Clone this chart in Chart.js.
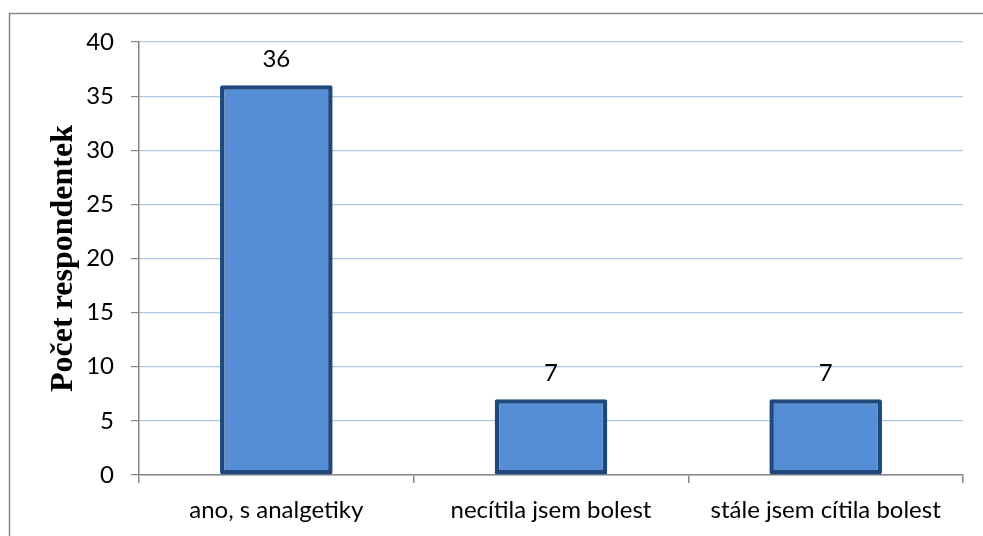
<!DOCTYPE html>
<html>
<head>
<meta charset="utf-8">
<script src="https://cdn.jsdelivr.net/npm/chart.js@4.4.1/dist/chart.umd.min.js"></script>
<style>
  html, body { margin: 0; padding: 0; background: #ffffff; }
  #wrap { width: 983px; height: 536px; position: relative; }
</style>
</head>
<body>
<div id="wrap"><canvas id="chart" width="983" height="536"></canvas></div>
<script>
// Odpovědi respondentek
const categories = ['ano, s analgetiky', 'necítila jsem bolest', 'stále jsem cítila bolest'];
const counts = [36, 7, 7];
const yTicks = [0, 5, 10, 15, 20, 25, 30, 35, 40];

const SANS = 'Lato, "Open Sans", sans-serif';
const AXIS_GREY = '#868686';

// Frame around the whole chart object
const framePlugin = {
  id: 'frame',
  beforeDraw(chart) {
    const ctx = chart.ctx;
    ctx.save();
    ctx.fillStyle = '#ffffff';
    ctx.fillRect(0, 0, chart.width, chart.height);
    ctx.strokeStyle = AXIS_GREY;
    ctx.lineWidth = 1.5;
    ctx.strokeRect(9.5, 13.5, 1200, 1200);
    ctx.restore();
  }
};

// Value written above each bar
const valueLabels = {
  id: 'valueLabels',
  afterDatasetsDraw(chart) {
    const ctx = chart.ctx;
    const meta = chart.getDatasetMeta(0);
    ctx.save();
    ctx.fillStyle = '#000000';
    ctx.font = '24px ' + SANS;
    ctx.textAlign = 'center';
    ctx.textBaseline = 'alphabetic';
    meta.data.forEach((bar, i) => {
      ctx.fillText(String(counts[i]), bar.x, bar.y - 18);
    });
    ctx.restore();
  }
};

new Chart(document.getElementById('chart'), {
  type: 'bar',
  data: {
    labels: categories,
    datasets: [{
      data: counts,
      backgroundColor: '#558ED5',
      borderColor: '#1F497D',
      borderWidth: 4.5,
      borderSkipped: false,
      borderRadius: 2,
      categoryPercentage: 1,
      barPercentage: 0.41
    }]
  },
  options: {
    responsive: false,
    animation: false,
    devicePixelRatio: 1,
    layout: { padding: { left: 0, top: 42, right: 20, bottom: 0 } },
    plugins: {
      legend: { display: false },
      tooltip: { enabled: false }
    },
    scales: {
      x: {
        grid: {
          offset: true,
          drawOnChartArea: false,
          tickLength: 8,
          tickColor: AXIS_GREY,
          lineWidth: 1.5
        },
        border: { color: AXIS_GREY, width: 1.5 },
        ticks: {
          color: '#000000',
          font: { family: SANS, size: 24 },
          padding: 13,
          maxRotation: 0
        },
        afterFit(scale) { scale.height = 61; }
      },
      y: {
        min: 0,
        max: 40,
        afterBuildTicks(scale) { scale.ticks = yTicks.map(v => ({ value: v })); },
        grid: {
          color: '#AFC6E6',
          lineWidth: 1.2,
          tickLength: 8,
          tickColor: AXIS_GREY
        },
        border: { color: AXIS_GREY, width: 1.5 },
        ticks: {
          color: '#000000',
          font: { family: SANS, size: 24 },
          padding: 17
        },
        title: {
          display: true,
          text: 'Počet respondentek',
          color: '#000000',
          font: { family: '"Liberation Serif", "Times New Roman", serif', size: 32, weight: 'bold' },
          padding: { top: 45, bottom: 0 }
        },
        afterFit(scale) { scale.width = 139; }
      }
    }
  },
  plugins: [framePlugin, valueLabels]
});
</script>
</body>
</html>
